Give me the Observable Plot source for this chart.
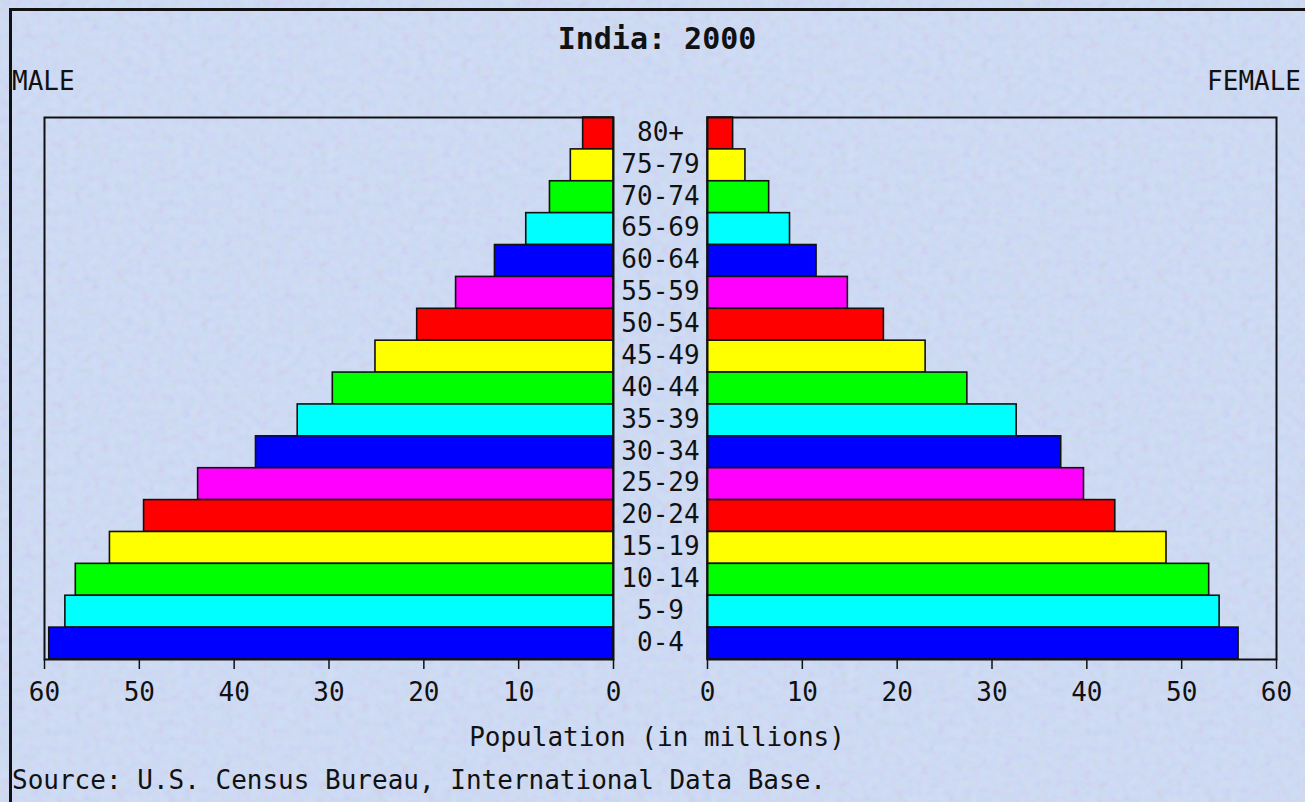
<!DOCTYPE html>
<html><head><meta charset="utf-8">
<script src="https://cdn.jsdelivr.net/npm/d3@7"></script>
<script src="https://cdn.jsdelivr.net/npm/@observablehq/plot@0.6"></script>
<style>
html,body{margin:0;padding:0;}
body{width:1305px;height:802px;overflow:hidden;position:relative;
  background-color:#cfdcf7;
  background-image:url("data:image/svg+xml,%3Csvg xmlns='http://www.w3.org/2000/svg' width='260' height='260'%3E%3Cfilter id='n'%3E%3CfeTurbulence type='fractalNoise' baseFrequency='0.12' numOctaves='2' seed='3'/%3E%3C/filter%3E%3Crect width='100%25' height='100%25' filter='url(%23n)' opacity='0.16'/%3E%3C/svg%3E");
  font-family:"DejaVu Sans Mono",monospace;}
#frame{position:absolute;left:9px;top:8px;width:1400px;height:900px;border-top:3px solid #111;border-left:3px solid #111;box-sizing:border-box;}
.t{position:absolute;color:#111;font-size:26px;white-space:nowrap;line-height:1;}
svg{overflow:visible;}
</style></head><body>
<div id="frame"></div>
<div class="t" style="left:0;width:1314px;text-align:center;top:24px;font-size:30px;font-weight:bold;">India: 2000</div>
<div class="t" style="left:12px;top:68px;">MALE</div>
<div class="t" style="right:4px;top:68px;">FEMALE</div>
<div class="t" style="left:0;width:1314px;text-align:center;top:724px;">Population (in millions)</div>
<div class="t" style="left:12px;top:767px;">Source: U.S. Census Bureau, International Data Base.</div>
<script>
const ages = ["80+","75-79","70-74","65-69","60-64","55-59","50-54","45-49","40-44","35-39","30-34","25-29","20-24","15-19","10-14","5-9","0-4"];
const male = [3.2,4.5,6.7,9.2,12.5,16.6,20.7,25.1,29.6,33.3,37.7,43.8,49.5,53.1,56.7,57.8,59.5];
const female = [2.7,4.0,6.5,8.7,11.5,14.8,18.6,23.0,27.4,32.6,37.3,39.7,43.0,48.4,52.9,54.0,56.0];
const barColors = ["#ff0000","#ffff00","#00ff00","#00ffff","#0000ff","#ff00ff",
                   "#ff0000","#ffff00","#00ff00","#00ffff","#0000ff","#ff00ff",
                   "#ff0000","#ffff00","#00ff00","#00ffff","#0000ff"];
const xTicks = [0,10,20,30,40,50,60];

const rows = ages.map((a,i)=>({age:a, male:male[i], female:female[i]}));
const ink = "#111";
const common = {
  height:709, marginTop:117, marginBottom:50,
  y:{domain:ages, padding:0, round:false, axis:null},
  color:{domain:ages, range:barColors},
  style:{background:"transparent", fontFamily:"DejaVu Sans Mono, monospace", fontSize:"26px", color:ink, overflow:"visible"}
};

const left = Plot.plot({
  ...common,
  width:660, marginLeft:44, marginRight:47,
  x:{domain:[0,60], reverse:true, label:null, axis:null},
  marks:[
    Plot.barX(rows,{x:"male", y:"age", fill:"age", stroke:ink, strokeWidth:1.6}),
    Plot.frame({stroke:ink, strokeWidth:2}),
    Plot.axisX({anchor:"bottom", ticks:xTicks, tickSize:10, tickPadding:13, label:null, stroke:ink, strokeWidth:1.5}),
    Plot.text(ages,{y:d=>d, frameAnchor:"right", dx:47, dy:-1, textAnchor:"middle", fill:ink, fontSize:26})
  ]
});
const right = Plot.plot({
  ...common,
  width:645, marginLeft:47, marginRight:29,
  x:{domain:[0,60], label:null, axis:null},
  marks:[
    Plot.barX(rows,{x:"female", y:"age", fill:"age", stroke:ink, strokeWidth:1.6}),
    Plot.frame({stroke:ink, strokeWidth:2}),
    Plot.axisX({anchor:"bottom", ticks:xTicks, tickSize:10, tickPadding:13, label:null, stroke:ink, strokeWidth:1.5})
  ]
});
for (const [svg, x] of [[left,0],[right,660]]) {
  svg.style.position = "absolute";
  svg.style.left = x + "px";
  svg.style.top = "0px";
  document.body.appendChild(svg);
}
</script>
</body></html>
